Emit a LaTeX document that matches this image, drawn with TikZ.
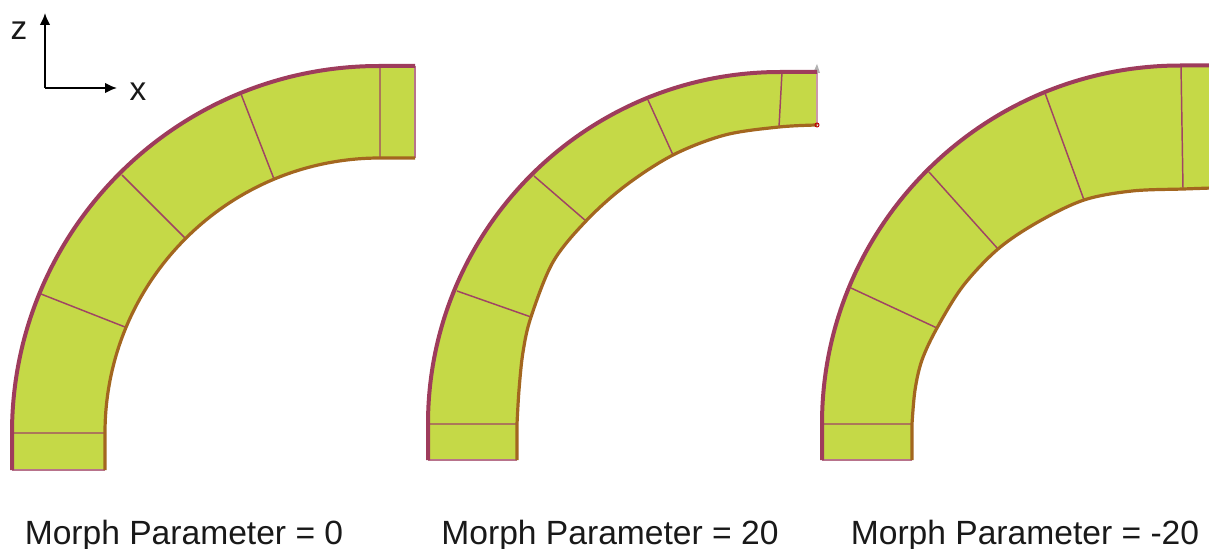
\documentclass[tikz,border=0pt]{standalone}
\usepackage{fontspec}
\setmainfont{Liberation Sans}
\usetikzlibrary{arrows.meta}
\tikzset{
  bandfill/.style={fill=bandgreen,draw=none},
  outeredge/.style={draw=outercol,line width=3pt,line join=round},
  inneredge/.style={draw=innercol,line width=2.4pt,line join=round},
  divider/.style={draw=divcol,line width=1.1pt},
  endedge/.style={draw=divcol!75,line width=1.1pt},
  axis/.style={draw=black,line width=1.4pt,-{Latex[length=9pt,width=8pt]}},
  caption/.style={font=\fontsize{25.2}{28}\selectfont,text=black!90,inner sep=0pt,anchor=base},
  axislabel/.style={font=\fontsize{25}{28}\selectfont,text=black!90,inner sep=0pt,anchor=base},
  curve/.style={smooth,tension=0.55}
}
\definecolor{bandgreen}{HTML}{C5D947}
\definecolor{outercol}{HTML}{9E3C5C}
\definecolor{innercol}{HTML}{A3661F}
\definecolor{divcol}{HTML}{A04464}
\def\innertwo{(517,424) (519,390) (523,352) (531,317) (553,262) (586,221) (625,186) (673,155) (725,135) (779,127) (817,125)}
\def\innerthree{(912,424) (915,390) (922,360) (937,328) (963,286) (998,249) (1038,222) (1084,200) (1132,191) (1183,189) (1212,188)}
\begin{document}
\begin{tikzpicture}[x=0.75pt,y=-0.75pt]
\useasboundingbox (0,0) rectangle (1209,549);
\begin{scope}
\clip (0,0) rectangle (1209,549);
% Shape 1
\fill[bandfill] (12,470) -- (12,433) arc[start angle=180,end angle=270,radius=367] -- (415,66) -- (415,158) -- (380,158)
  arc[start angle=270,end angle=180,radius=275] -- (105,470) -- cycle;
\draw[divider] (380,66)--(380,158) (241,94)--(274,179) (122,175)--(185,238) (41,294)--(125,327) (12,433)--(105,433);
\draw[endedge] (415,66)--(415,158) (12,470)--(105,470);
\draw[outeredge] (12,470) -- (12,433) arc[start angle=180,end angle=270,radius=367] -- (415,66);
\draw[inneredge] (105,470) -- (105,433) arc[start angle=180,end angle=270,radius=275] -- (415,158);
% Shape 2
\fill[bandfill] (517,460) -- plot[curve] coordinates {\innertwo} -- (817,72) -- (780,72)
  arc[start angle=270,end angle=180,radius=352] -- (428,460) -- cycle;
\draw[divider] (782,72)--(779,127) (648,100)--(673,155) (534,176)--(586,221) (457,291)--(531,317) (428,424)--(517,424);
\draw[endedge,draw=divcol!55] (817,72)--(817,125);
\draw[endedge] (428,460)--(517,460);
\fill[gray!60] (813,73) -- (817,64) -- (820,73) -- cycle;
\draw[outeredge] (428,460) -- (428,424) arc[start angle=180,end angle=270,radius=352] -- (817,72);
\draw[inneredge] (517,460) -- plot[curve] coordinates {\innertwo};
\draw[red!75!black,line width=0.7pt] (817,125) circle[radius=2];
% Shape 3
\fill[bandfill] (912,460) -- plot[curve] coordinates {\innerthree} -- (1212,65.5) -- (1180.5,65.5)
  arc[start angle=270,end angle=180,radius=358.5] -- (822,460) -- cycle;
\draw[divider] (1181,66)--(1183,189) (1045,93)--(1084,200) (929,172)--(998,249) (851,288)--(937,328) (822,424)--(912,424);
\draw[endedge] (822,460)--(912,460);
\draw[outeredge] (822,460) -- (822,424) arc[start angle=180,end angle=270,radius=358.5] -- (1212,65.5);
\draw[inneredge] (912,460) -- plot[curve] coordinates {\innerthree};
\end{scope}
% Axes
\coordinate (origin) at (45,88);
\coordinate (ztip) at (45,13);
\coordinate (xtip) at (117,88);
\draw[axis] (origin) -- (ztip);
\draw[axis] (origin) -- (xtip);
\node[axislabel] (zlabel) at (19,40) {z};
\node[axislabel] (xlabel) at (138,101) {x};
% Captions
\node[caption] (cap1) at (184,544.5) {Morph Parameter = 0};
\node[caption] (cap2) at (610,544.5) {Morph Parameter = 20};
\node[caption] (cap3) at (1025,544.5) {Morph Parameter = -20};
\end{tikzpicture}
\end{document}
